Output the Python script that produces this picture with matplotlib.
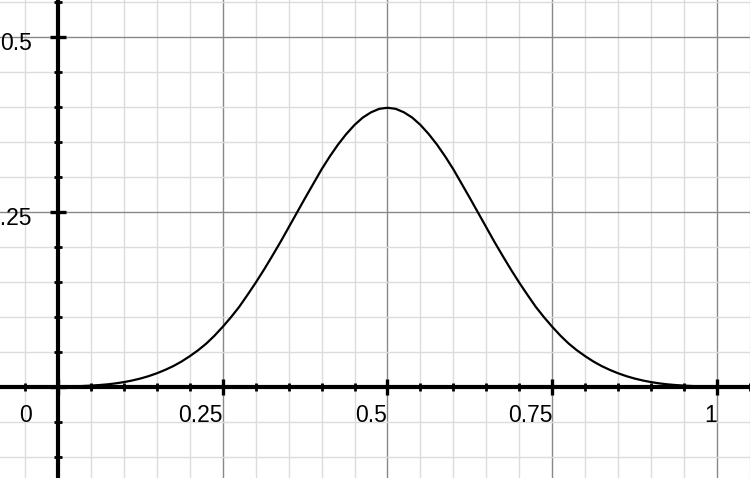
import matplotlib
matplotlib.use("Agg")
import matplotlib.pyplot as plt
from matplotlib.transforms import offset_copy

# Curve values (step 0.0125)
x_vals = [0.0, 0.0125, 0.025, 0.0375, 0.05, 0.0625, 0.075, 0.0875, 0.10, 0.1125,
          0.125, 0.1375, 0.15, 0.1625, 0.175, 0.1875, 0.20, 0.2125, 0.225, 0.2375,
          0.25, 0.2625, 0.275, 0.2875, 0.30, 0.3125, 0.325, 0.3375, 0.35, 0.3625,
          0.375, 0.3875, 0.40, 0.4125, 0.425, 0.4375, 0.45, 0.4625, 0.475, 0.4875,
          0.50, 0.5125, 0.525, 0.5375, 0.55, 0.5625, 0.575, 0.5875, 0.60, 0.6125,
          0.625, 0.6375, 0.65, 0.6625, 0.675, 0.6875, 0.70, 0.7125, 0.725, 0.7375,
          0.75, 0.7625, 0.775, 0.7875, 0.80, 0.8125, 0.825, 0.8375, 0.85, 0.8625,
          0.875, 0.8875, 0.90, 0.9125, 0.925, 0.9375, 0.95, 0.9625, 0.975, 0.9875, 1.0]
y_vals = [0.0005, 0.0007, 0.0010, 0.0014, 0.0020, 0.0028, 0.0038, 0.0052, 0.0070, 0.0093,
          0.0121, 0.0155, 0.0196, 0.0244, 0.0299, 0.0364, 0.0440, 0.0524, 0.0620, 0.0733,
          0.0860, 0.0997, 0.1145, 0.1315, 0.1490, 0.1675, 0.1870, 0.2070, 0.2280, 0.2490,
          0.2700, 0.2905, 0.3110, 0.3295, 0.3465, 0.3615, 0.3745, 0.3850, 0.3925, 0.3975,
          0.3990, 0.3975, 0.3925, 0.3850, 0.3745, 0.3615, 0.3465, 0.3295, 0.3110, 0.2905,
          0.2700, 0.2490, 0.2280, 0.2070, 0.1870, 0.1675, 0.1490, 0.1315, 0.1145, 0.0997,
          0.0860, 0.0733, 0.0620, 0.0524, 0.0440, 0.0364, 0.0299, 0.0244, 0.0196, 0.0155,
          0.0121, 0.0093, 0.0070, 0.0052, 0.0038, 0.0028, 0.0020, 0.0014, 0.0010, 0.0007, 0.0005]

x_major = [0.0, 0.25, 0.5, 0.75, 1.0]
y_major = [0.0, 0.25, 0.5]
x_minor = [-0.05, 0.0, 0.05, 0.10, 0.15, 0.20, 0.25, 0.30, 0.35, 0.40, 0.45, 0.50,
           0.55, 0.60, 0.65, 0.70, 0.75, 0.80, 0.85, 0.90, 0.95, 1.0, 1.05]
y_minor = [-0.10, -0.05, 0.0, 0.05, 0.10, 0.15, 0.20, 0.25, 0.30, 0.35, 0.40, 0.45, 0.50, 0.55]

x_labels = ["0.25", "0.5", "0.75", "1"]
x_label_pos = [0.25, 0.5, 0.75, 1.0]
y_labels = ["0.25", "0.5"]
y_label_pos = [0.25, 0.5]
origin_label = "0"

plt.rcParams['font.family'] = ['Liberation Sans', 'DejaVu Sans']

fig = plt.figure(figsize=(7.5, 4.78), dpi=100)
ax = fig.add_axes([0, 0, 1, 1])
ax.set_xlim(-0.0879, 1.0485)
ax.set_ylim(-0.130, 0.553)

ax.set_xticks(x_major)
ax.set_yticks(y_major)
ax.set_xticks(x_minor, minor=True)
ax.set_yticks(y_minor, minor=True)
ax.set_xticklabels([])
ax.set_yticklabels([])

ax.grid(which='minor', color='#dcdcdc', lw=1.0, zorder=0)
ax.grid(which='major', color='#888888', lw=1.0, zorder=0)
ax.set_axisbelow(True)

for s in ['top', 'right']:
    ax.spines[s].set_visible(False)
for s in ['left', 'bottom']:
    ax.spines[s].set_position('zero')
    ax.spines[s].set_linewidth(3.0)
    ax.spines[s].set_color('black')
    ax.spines[s].set_zorder(5)

ax.tick_params(which='major', direction='inout', length=11, width=2.4, color='black')
ax.tick_params(which='minor', direction='inout', length=6, width=2.0, color='black')

ax.plot(x_vals, y_vals, color='black', lw=1.6, zorder=4,
        solid_capstyle='round', solid_joinstyle='round')

fs = 16.5
tx = offset_copy(ax.transData, fig=fig, x=0, y=-35, units='dots')
for xp, lab in zip(x_label_pos, x_labels):
    ax.text(xp, 0, lab, transform=tx, ha='right', va='baseline', fontsize=fs, color='black')

lx = -0.0394
ty = offset_copy(ax.transData, fig=fig, x=0, y=-13, units='dots')
for yp, lab in zip(y_label_pos, y_labels):
    ax.text(lx, yp, lab, transform=ty, ha='right', va='baseline', fontsize=fs, color='black')
ax.text(lx, 0, origin_label, transform=tx, ha='right', va='baseline', fontsize=fs, color='black')

fig.savefig("out.png", dpi=100)
